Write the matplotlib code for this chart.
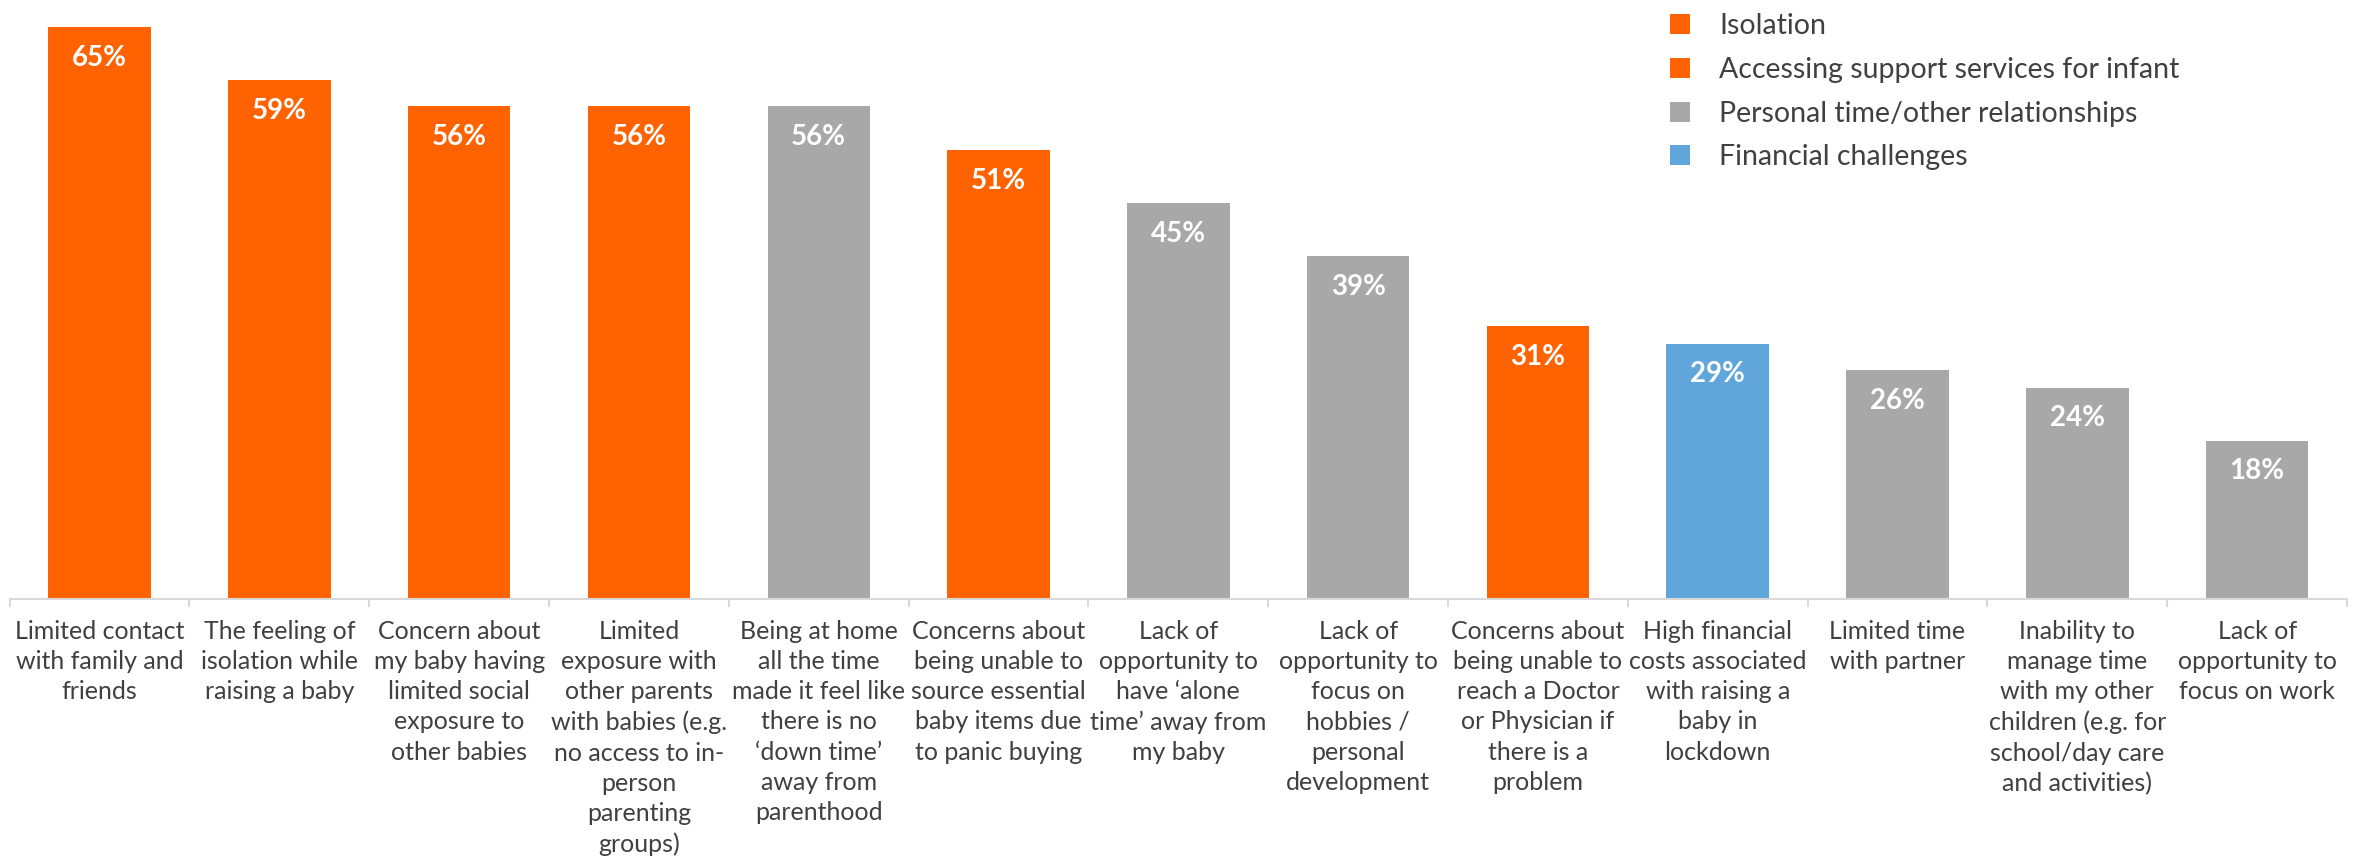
import matplotlib
matplotlib.use("Agg")
import matplotlib.pyplot as plt
from matplotlib.lines import Line2D
from matplotlib.ticker import FixedLocator

plt.rcParams["font.family"] = ["Lato", "DejaVu Sans"]

# ---------------------------------------------------------
# Datos
# ---------------------------------------------------------

categories = [
    "Limited contact\nwith family and\nfriends",
    "The feeling of\nisolation while\nraising a baby",
    "Concern about\nmy baby having\nlimited social\nexposure to\nother babies",
    "Limited\nexposure with\nother parents\nwith babies (e.g.\nno access to in-\nperson\nparenting\ngroups)",
    "Being at home\nall the time\nmade it feel like\nthere is no\n\u2018down time\u2019\naway from\nparenthood",
    "Concerns about\nbeing unable to\nsource essential\nbaby items due\nto panic buying",
    "Lack of\nopportunity to\nhave \u2018alone\ntime\u2019 away from\nmy baby",
    "Lack of\nopportunity to\nfocus on\nhobbies /\npersonal\ndevelopment",
    "Concerns about\nbeing unable to\nreach a Doctor\nor Physician if\nthere is a\nproblem",
    "High financial\ncosts associated\nwith raising a\nbaby in\nlockdown",
    "Limited time\nwith partner",
    "Inability to\nmanage time\nwith my other\nchildren (e.g. for\nschool/day care\nand activities)",
    "Lack of\nopportunity to\nfocus on work",
]

values = [65, 59, 56, 56, 56, 51, 45, 39, 31, 29, 26, 24, 18]

groups = [
    "Isolation", "Isolation", "Isolation", "Isolation",
    "Personal time/other relationships",
    "Accessing support services for infant",
    "Personal time/other relationships",
    "Personal time/other relationships",
    "Accessing support services for infant",
    "Financial challenges",
    "Personal time/other relationships",
    "Personal time/other relationships",
    "Personal time/other relationships",
]

legend_order = [
    "Isolation",
    "Accessing support services for infant",
    "Personal time/other relationships",
    "Financial challenges",
]

group_colors = {
    "Isolation": "#FF6200",
    "Accessing support services for infant": "#FF6200",
    "Personal time/other relationships": "#A8A8A8",
    "Financial challenges": "#60A6DA",
}

TEXT = "#404040"
AXIS = "#D9D9D9"

# ---------------------------------------------------------
# Figura
# ---------------------------------------------------------

fig = plt.figure(figsize=(23.66, 8.58), dpi=100)
ax = fig.add_axes([9.7 / 2366, 259 / 858, (2347 - 9.7) / 2366, 599 / 858])

x = list(range(len(values)))
colors = [group_colors[g] for g in groups]

ax.bar(x, values, width=0.57, color=colors)

for xi, v in zip(x, values):
    ax.annotate(
        f"{v}%",
        xy=(xi, v),
        xytext=(0, -22),
        textcoords="offset points",
        ha="center",
        va="center",
        color="white",
        fontsize=20,
        fontweight="bold",
    )

ax.set_xlim(-0.5, len(values) - 0.5)
ax.set_ylim(0, 68.1)

for side in ["top", "right", "left"]:
    ax.spines[side].set_visible(False)
ax.spines["bottom"].set_color(AXIS)
ax.spines["bottom"].set_linewidth(1.5)

ax.set_yticks([])
ax.set_xticks(x)
ax.set_xticklabels(categories, fontsize=18, color=TEXT, linespacing=1.38,
                   va="top")
ax.tick_params(axis="x", which="major", length=0, pad=15)
ax.xaxis.set_minor_locator(FixedLocator([i - 0.5 for i in range(len(values) + 1)]))
ax.tick_params(axis="x", which="minor", length=6, width=1.5, color=AXIS,
               direction="out")

handles = [
    Line2D([], [], linestyle="none", marker="s", markersize=14,
           markerfacecolor=group_colors[g], markeredgewidth=0)
    for g in legend_order
]
fig.legend(
    handles, legend_order,
    loc="upper left",
    bbox_to_anchor=(1652 / 2366, 1 + 1 / 858),
    frameon=False,
    fontsize=20.5,
    labelcolor=TEXT,
    handlelength=1.0,
    handletextpad=0.85,
    labelspacing=0.62,
    borderpad=0,
)

fig.savefig("out.png", dpi=100)
